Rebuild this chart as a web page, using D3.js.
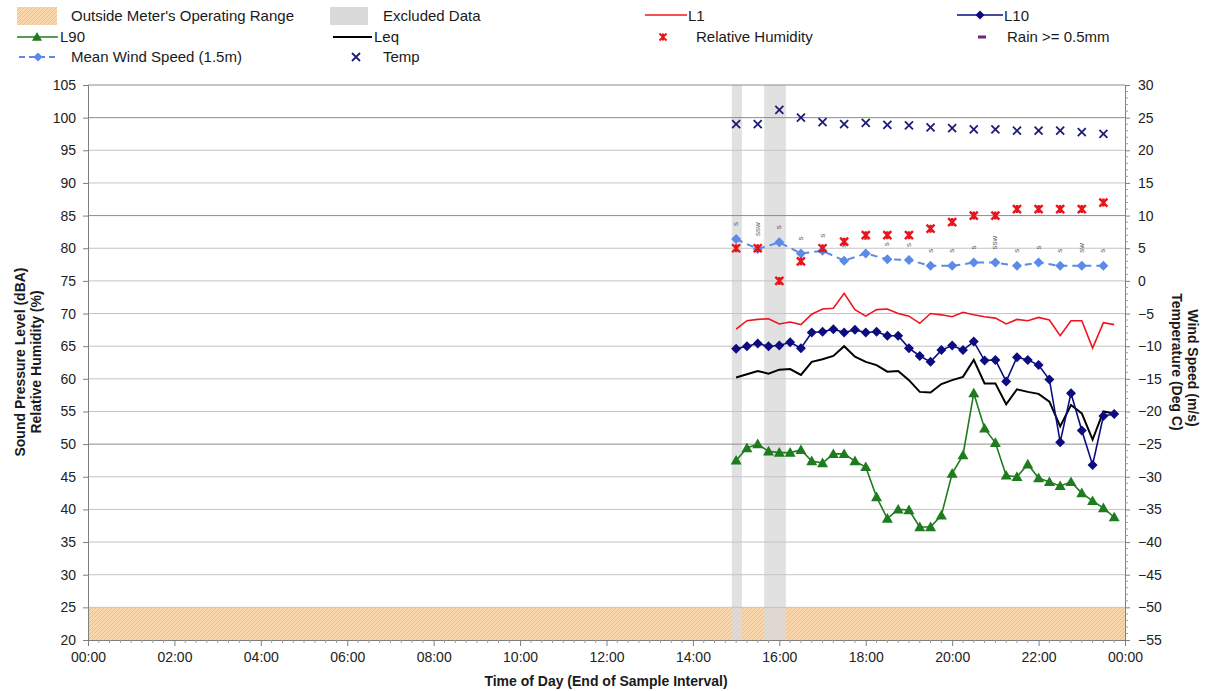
<!DOCTYPE html>
<html><head><meta charset="utf-8">
<script src="https://cdn.jsdelivr.net/npm/d3@7/dist/d3.min.js"></script>
<style>
body{margin:0;background:#fff}
svg{display:block;font-family:"Liberation Sans",Arial,sans-serif}
</style>
</head><body>
<svg id="c" width="1208" height="691"></svg>
<script>
// ---------------- DATA ----------------
const times15 = ["15:00","15:15","15:30","15:45","16:00","16:15","16:30","16:45","17:00","17:15","17:30","17:45",
  "18:00","18:15","18:30","18:45","19:00","19:15","19:30","19:45","20:00","20:15","20:30","20:45",
  "21:00","21:15","21:30","21:45","22:00","22:15","22:30","22:45","23:00","23:15","23:30","23:45"];
const L1  = [67.6,68.9,69.1,69.2,68.4,68.7,68.3,69.9,70.7,70.8,73.1,70.6,69.6,70.6,70.7,70.0,69.6,68.5,70.0,69.8,69.5,70.2,69.8,69.5,69.3,68.4,69.1,68.9,69.4,69.0,66.6,68.9,68.9,64.7,68.6,68.3];
const L10 = [64.6,65.0,65.4,65.0,65.1,65.6,64.7,67.1,67.2,67.6,67.1,67.5,67.1,67.2,66.6,66.6,64.7,63.5,62.6,64.4,65.1,64.4,65.7,62.8,62.9,59.6,63.3,62.9,62.1,59.9,50.3,57.8,52.1,46.8,54.3,54.6];
const Leq = [60.2,60.7,61.2,60.8,61.4,61.5,60.6,62.6,63.0,63.5,65.0,63.4,62.6,62.1,61.1,61.2,59.8,58.0,57.9,59.2,59.8,60.3,62.9,59.3,59.3,56.1,58.4,58.0,57.7,56.5,52.7,56.0,54.7,50.7,55.0,54.7];
const L90 = [47.5,49.4,50.0,48.9,48.7,48.7,49.1,47.4,47.1,48.5,48.5,47.4,46.5,41.9,38.6,40.0,39.9,37.3,37.3,39.1,45.5,48.3,57.8,52.4,50.2,45.2,45.0,46.9,44.8,44.2,43.6,44.2,42.5,41.3,40.2,38.8];

const times30 = ["15:00","15:30","16:00","16:30","17:00","17:30","18:00","18:30","19:00","19:30","20:00","20:30","21:00","21:30","22:00","22:30","23:00","23:30"];
const humidity = [80,80,75,78,80,81,82,82,82,83,84,85,85,86,86,86,86,87];
const temperature = [24.0,24.0,26.2,25.0,24.3,24.0,24.2,23.9,23.8,23.5,23.4,23.2,23.2,23.0,23.0,23.0,22.8,22.5];
const windSpeed = [6.4,4.9,5.9,4.2,4.6,3.1,4.2,3.3,3.2,2.3,2.3,2.8,2.8,2.3,2.8,2.3,2.3,2.3];
const windDir = ["S","SSW","S","S","S","S","S","S","S","S","S","S","SSW","S","S","S","SW","S"];

const excludedStart = ["14:54","15:39"];
const excludedEnd   = ["15:08","16:09"];
const rangeLow = 20, rangeHigh = 25;

const xTickHours  = [0,2,4,6,8,10,12,14,16,18,20,22,24];
const xTickLabels = ["00:00","02:00","04:00","06:00","08:00","10:00","12:00","14:00","16:00","18:00","20:00","22:00","00:00"];
const leftTicks  = [20,25,30,35,40,45,50,55,60,65,70,75,80,85,90,95,100,105];
const rightTicks = [-55,-50,-45,-40,-35,-30,-25,-20,-15,-10,-5,0,5,10,15,20,25,30];
const strongGrid = [100,85,50];

// ---------------- SETUP ----------------
const svg = d3.select("#c");
const X0 = 88, X1 = 1125, Y0 = 640, Y1 = 85;
const hrs = s => { const p = s.split(":"); return +p[0] + (+p[1])/60; };
const x = d3.scaleLinear().domain([0,24]).range([X0,X1]);
const y = d3.scaleLinear().domain([20,105]).range([Y0,Y1]);
const yR = d3.scaleLinear().domain([-55,30]).range([Y0,Y1]);

const C = {
  L1:"#f0141e", L10:"#0c0c80", Leq:"#000000", L90:"#1e7b1e",
  rh:"#e8141c", temp:"#1c1c78", wind:"#5b8ae8", rain:"#7a1f7a",
  excl:"#d9d9d9"
};

// pattern for the operating range
const defs = svg.append("defs");
const pat = defs.append("pattern").attr("id","hatch").attr("patternUnits","userSpaceOnUse")
  .attr("width",4).attr("height",4);
pat.append("rect").attr("width",4).attr("height",4).attr("fill","#fad6ad");
pat.append("path").attr("d","M0,4 L4,0").attr("stroke","#e9b781").attr("stroke-width",0.8);

const g = svg.append("g");

// operating range band
g.append("rect").attr("x",X0).attr("width",X1-X0)
  .attr("y",y(rangeHigh)).attr("height",y(rangeLow)-y(rangeHigh)).attr("fill","url(#hatch)");

// excluded bands
g.selectAll(".excl").data(excludedStart).join("rect")
  .attr("x",(d,i)=>x(hrs(d))).attr("width",(d,i)=>x(hrs(excludedEnd[i]))-x(hrs(d)))
  .attr("y",Y1).attr("height",Y0-Y1).attr("fill",C.excl).attr("opacity",0.8);

// gridlines
g.selectAll(".grid").data(leftTicks.filter(v=>v>20 && v<105)).join("line")
  .attr("x1",X0).attr("x2",X1).attr("y1",d=>y(d)).attr("y2",d=>y(d))
  .attr("stroke",d=>strongGrid.includes(d)?"#8c8c8c":"#c4c4c4").attr("stroke-width",1);
// top border
g.append("line").attr("x1",X0).attr("x2",X1).attr("y1",Y1).attr("y2",Y1).attr("stroke","#8c8c8c");

// axes
const axL = d3.axisLeft(y).tickValues(leftTicks).tickSize(5).tickPadding(7).tickFormat(d3.format("d"));
const axR = d3.axisRight(yR).tickValues(rightTicks).tickSize(5).tickPadding(8).tickFormat(d3.format("d"));
const axB = d3.axisBottom(x).tickValues(xTickHours).tickSize(6).tickPadding(6).tickFormat((d,i)=>xTickLabels[i]);
function styleAxis(sel){
  sel.select(".domain").attr("stroke","#7f7f7f");
  sel.selectAll(".tick line").attr("stroke","#7f7f7f");
  sel.selectAll(".tick text").attr("fill","#222").style("font-size","14px").style("font-family","'Liberation Sans',Arial,sans-serif");
}
const gL = svg.append("g").attr("transform",`translate(${X0},0)`).call(axL).call(styleAxis);
const gR = svg.append("g").attr("transform",`translate(${X1},0)`).call(axR).call(styleAxis);
const gB = svg.append("g").attr("transform",`translate(0,${Y0})`).call(axB).call(styleAxis);
// minor ticks
const minorR = d3.range(-55,30.01,1).filter(v=>!rightTicks.includes(v));
svg.append("g").attr("transform",`translate(${X1},0)`).selectAll("line").data(minorR).join("line")
  .attr("x1",0).attr("x2",3).attr("y1",d=>yR(d)).attr("y2",d=>yR(d)).attr("stroke","#9a9a9a");
const minorX = d3.range(0,24.01,0.25).filter(v=>v%2!==0);
svg.append("g").attr("transform",`translate(0,${Y0})`).selectAll("line").data(minorX).join("line")
  .attr("x1",d=>x(d)).attr("x2",d=>x(d)).attr("y1",0).attr("y2",3).attr("stroke","#9a9a9a");

// axis titles
const tFont = "bold 14px 'Liberation Sans',Arial,sans-serif";
svg.append("text").attr("transform",`translate(25,362) rotate(-90)`).attr("text-anchor","middle")
  .style("font",tFont).attr("fill","#1a1a1a").text("Sound Pressure Level (dBA)");
svg.append("text").attr("transform",`translate(41,362) rotate(-90)`).attr("text-anchor","middle")
  .style("font",tFont).attr("fill","#1a1a1a").text("Relative Humidity (%)");
svg.append("text").attr("transform",`translate(1188,368) rotate(90)`).attr("text-anchor","middle")
  .style("font",tFont).attr("fill","#1a1a1a").text("Wind Speed (m/s)");
svg.append("text").attr("transform",`translate(1172,362) rotate(90)`).attr("text-anchor","middle")
  .style("font",tFont).attr("fill","#1a1a1a").text("Temperature (Deg C)");
svg.append("text").attr("x",606).attr("y",686).attr("text-anchor","middle")
  .style("font",tFont).attr("fill","#1a1a1a").text("Time of Day (End of Sample Interval)");

// ---------------- SERIES ----------------
const diamond = r => `M0,${-r}L${r},0L0,${r}L${-r},0Z`;
const tri = r => `M0,${-r}L${r},${r*0.75}L${-r},${r*0.75}Z`;
const cross = r => `M${-r},${-r}L${r},${r}M${-r},${r}L${r},${-r}`;
const star = r => `M${-r},${-r}L${r},${r}M${-r},${r}L${r},${-r}M0,${-r}L0,${r}`;

const line15 = d3.line().x((d,i)=>x(hrs(times15[i]))).y(d=>y(d));
const line30R = d3.line().x((d,i)=>x(hrs(times30[i]))).y(d=>yR(d));

const plot = svg.append("g");

// wind speed (right axis)
plot.append("path").datum(windSpeed).attr("d",line30R).attr("fill","none")
  .attr("stroke",C.wind).attr("stroke-width",2).attr("stroke-dasharray","7,5");
plot.selectAll(".wd").data(windSpeed).join("path")
  .attr("transform",(d,i)=>`translate(${x(hrs(times30[i]))},${yR(d)})`).attr("d",diamond(5)).attr("fill",C.wind);
// wind direction labels
plot.selectAll(".wdl").data(windDir).join("text")
  .attr("transform",(d,i)=>`translate(${x(hrs(times30[i]))+2},${yR(windSpeed[i])-13}) rotate(-90)`)
  .attr("text-anchor","start").style("font-size","6px").attr("fill","#444").text(d=>d);

// L1
plot.append("path").datum(L1).attr("d",line15).attr("fill","none").attr("stroke",C.L1).attr("stroke-width",1.6);
// Leq
plot.append("path").datum(Leq).attr("d",line15).attr("fill","none").attr("stroke",C.Leq).attr("stroke-width",2);
// L10
plot.append("path").datum(L10).attr("d",line15).attr("fill","none").attr("stroke",C.L10).attr("stroke-width",1.6);
plot.selectAll(".l10").data(L10).join("path")
  .attr("transform",(d,i)=>`translate(${x(hrs(times15[i]))},${y(d)})`).attr("d",diamond(5)).attr("fill",C.L10);
// L90
plot.append("path").datum(L90).attr("d",line15).attr("fill","none").attr("stroke",C.L90).attr("stroke-width",1.6);
plot.selectAll(".l90").data(L90).join("path")
  .attr("transform",(d,i)=>`translate(${x(hrs(times15[i]))},${y(d)})`).attr("d",tri(5.5)).attr("fill",C.L90);
// humidity
plot.selectAll(".rh").data(humidity).join("path")
  .attr("transform",(d,i)=>`translate(${x(hrs(times30[i]))},${y(d)})`).attr("d",star(4))
  .attr("stroke",C.rh).attr("stroke-width",2.4).attr("fill","none");
// temperature (right axis)
plot.selectAll(".tp").data(temperature).join("path")
  .attr("transform",(d,i)=>`translate(${x(hrs(times30[i]))},${yR(d)})`).attr("d",cross(4))
  .attr("stroke",C.temp).attr("stroke-width",1.8).attr("fill","none");

// ---------------- LEGEND ----------------
const lg = svg.append("g").style("font-size","15px").attr("fill","#1a1a1a");
const ltxt = (tx,ty,s)=>lg.append("text").attr("x",tx).attr("y",ty+5).text(s);
// row 1
lg.append("rect").attr("x",17).attr("y",7).attr("width",40).attr("height",18).attr("fill","url(#hatch)");
ltxt(71,16,"Outside Meter's Operating Range");
lg.append("rect").attr("x",330).attr("y",7).attr("width",38).attr("height",18).attr("fill",C.excl);
ltxt(383,16,"Excluded Data");
lg.append("line").attr("x1",645).attr("x2",687).attr("y1",15).attr("y2",15).attr("stroke",C.L1).attr("stroke-width",1.6);
ltxt(688,16,"L1");
lg.append("line").attr("x1",957).attr("x2",1003).attr("y1",15).attr("y2",15).attr("stroke",C.L10).attr("stroke-width",1.6);
lg.append("path").attr("transform","translate(980,15)").attr("d",diamond(4.5)).attr("fill",C.L10);
ltxt(1004,16,"L10");
// row 2
lg.append("line").attr("x1",17).attr("x2",58).attr("y1",37).attr("y2",37).attr("stroke",C.L90).attr("stroke-width",1.6);
lg.append("path").attr("transform","translate(37,37)").attr("d",tri(5)).attr("fill",C.L90);
ltxt(60,37,"L90");
lg.append("line").attr("x1",333).attr("x2",372).attr("y1",37).attr("y2",37).attr("stroke",C.Leq).attr("stroke-width",2);
ltxt(374,37,"Leq");
lg.append("path").attr("transform","translate(663,37)").attr("d",star(3.5)).attr("stroke",C.rh).attr("stroke-width",2).attr("fill","none");
ltxt(696,37,"Relative Humidity");
lg.append("line").attr("x1",978).attr("x2",986).attr("y1",37).attr("y2",37).attr("stroke",C.rain).attr("stroke-width",3);
ltxt(1007,37,"Rain >= 0.5mm");
// row 3
lg.append("line").attr("x1",19).attr("x2",58).attr("y1",57).attr("y2",57).attr("stroke",C.wind).attr("stroke-width",2).attr("stroke-dasharray","6,4");
lg.append("path").attr("transform","translate(38,57)").attr("d",diamond(4.5)).attr("fill",C.wind);
ltxt(71,57,"Mean Wind Speed (1.5m)");
lg.append("path").attr("transform","translate(356,57)").attr("d",cross(4)).attr("stroke",C.temp).attr("stroke-width",1.8).attr("fill","none");
ltxt(383,57,"Temp");
</script>
</body></html>
